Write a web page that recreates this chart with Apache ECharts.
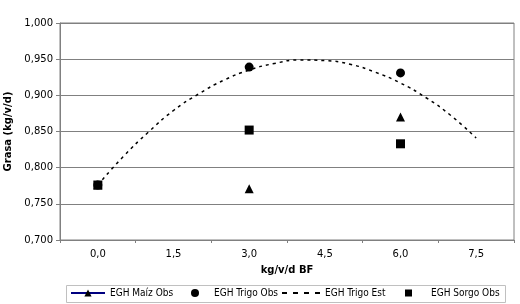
<!DOCTYPE html>
<html><head><meta charset="utf-8">
<script src="https://cdn.jsdelivr.net/npm/echarts@6/dist/echarts.min.js"></script>
<style>html,body{margin:0;padding:0;background:#fff}#c{width:520px;height:304px}</style>
</head><body><div id="c"></div>
<script>
const xLabels = [0, 1.5, 3, 4.5, 6, 7.5];
const xTicks = [-0.75, 0.75, 2.25, 3.75, 5.25, 6.75, 8.25];
const obsX = [0, 3, 6];
const maizObs = [0.776, 0.771, 0.870];
const trigoObs = [0.776, 0.939, 0.931];
const sorgoObs = [0.776, 0.852, 0.833];
const estX = [0, 0.5, 1, 1.5, 2, 2.5, 3, 3.5, 4, 4.5, 5, 5.5, 6, 6.5, 7, 7.5];
const trigoEst = [0.776, 0.815, 0.849, 0.879, 0.902, 0.921, 0.935, 0.944, 0.949, 0.948, 0.943, 0.932, 0.917, 0.897, 0.872, 0.841];

const pair = (xs, ys) => xs.map((x, i) => [x, ys[i]]);
const F = 'DejaVu Sans, Verdana, sans-serif';
const legTxt = {fontFamily: 'DejaVu Sans Condensed, Liberation Sans, sans-serif', fontSize: 10, color: '#000'};
const legBase = {top: 288, padding: 0, itemHeight: 9, selectedMode: false};
const chart = echarts.init(document.getElementById('c'));
chart.setOption({
  animation: false,
  backgroundColor: '#fff',
  grid: {left: 60, right: 6, top: 23, bottom: 64, containLabel: false, outerBoundsMode: 'none',
    show: true, borderColor: '#808080', borderWidth: 1},
  xAxis: {
    type: 'value', min: -0.75, max: 8.25,
    name: 'kg/v/d BF', nameLocation: 'middle', nameGap: 25,
    nameTextStyle: {fontFamily: F, fontWeight: 'bold', fontSize: 10, color: '#000'},
    axisLine: {show: true, onZero: false, lineStyle: {color: '#808080'}},
    axisTick: {show: true, customValues: xTicks, length: 3, lineStyle: {color: '#808080'}},
    axisLabel: {customValues: xLabels, fontFamily: F, fontSize: 10, color: '#000', margin: 9,
      formatter: v => v.toFixed(1).replace('.', ',')},
    splitLine: {show: false}
  },
  yAxis: {
    type: 'value', min: 0.7, max: 1.0, interval: 0.05,
    name: 'Grasa (kg/v/d)', nameLocation: 'middle', nameGap: 38,
    nameTextStyle: {fontFamily: F, fontWeight: 'bold', fontSize: 10, color: '#000'},
    axisLine: {show: true, onZero: false, lineStyle: {color: '#808080'}},
    axisTick: {show: true, length: 4, lineStyle: {color: '#808080'}},
    axisLabel: {fontFamily: F, fontSize: 10, color: '#000', margin: 7,
      formatter: v => v.toFixed(3).replace('.', ',')},
    splitLine: {show: true, lineStyle: {color: '#808080', width: 1}}
  },
  graphic: [{type: 'rect', left: 66, top: 285, shape: {width: 439, height: 17},
    style: {fill: '#fff', stroke: '#c0c0c0', lineWidth: 1}, z: -1}],
  legend: [
    Object.assign({}, legBase, {left: 70, itemWidth: 34, textStyle: legTxt,
      data: [{name: 'EGH Maíz Obs', lineStyle: {color: '#000080', width: 2, opacity: 1}}]}),
    Object.assign({}, legBase, {left: 191, itemWidth: 8, itemHeight: 8,
      textStyle: Object.assign({}, legTxt, {padding: [0, 0, 0, 10]}),
      data: [{name: 'EGH Trigo Obs', icon: 'circle'}]}),
    Object.assign({}, legBase, {left: 281, itemWidth: 38, textStyle: legTxt,
      data: [{name: 'EGH Trigo Est', itemStyle: {opacity: 0, color: 'rgba(0,0,0,0)', borderWidth: 0},
        lineStyle: {color: '#000', width: 2, type: [5, 6], opacity: 1}}]}),
    Object.assign({}, legBase, {left: 405, itemWidth: 7, itemHeight: 7,
      textStyle: Object.assign({}, legTxt, {padding: [0, 0, 0, 14]}),
      data: [{name: 'EGH Sorgo Obs', icon: 'rect'}]})
  ],
  series: [
    {name: 'EGH Trigo Est', type: 'line', smooth: true, showSymbol: false, symbol: 'none',
      data: pair(estX, trigoEst), lineStyle: {color: '#000', width: 1.5, type: [3, 4]}, itemStyle: {color: '#000'}},
    {name: 'EGH Maíz Obs', type: 'line', symbol: 'triangle', symbolSize: 9,
      data: pair(obsX, maizObs), itemStyle: {color: '#000', opacity: 1}, lineStyle: {opacity: 0, width: 0}},
    {name: 'EGH Trigo Obs', type: 'scatter', symbol: 'circle', symbolSize: 9,
      data: pair(obsX, trigoObs), itemStyle: {color: '#000', opacity: 1}},
    {name: 'EGH Sorgo Obs', type: 'scatter', symbol: 'rect', symbolSize: 9,
      data: pair(obsX, sorgoObs), itemStyle: {color: '#000', opacity: 1}}
  ]
});
</script></body></html>
